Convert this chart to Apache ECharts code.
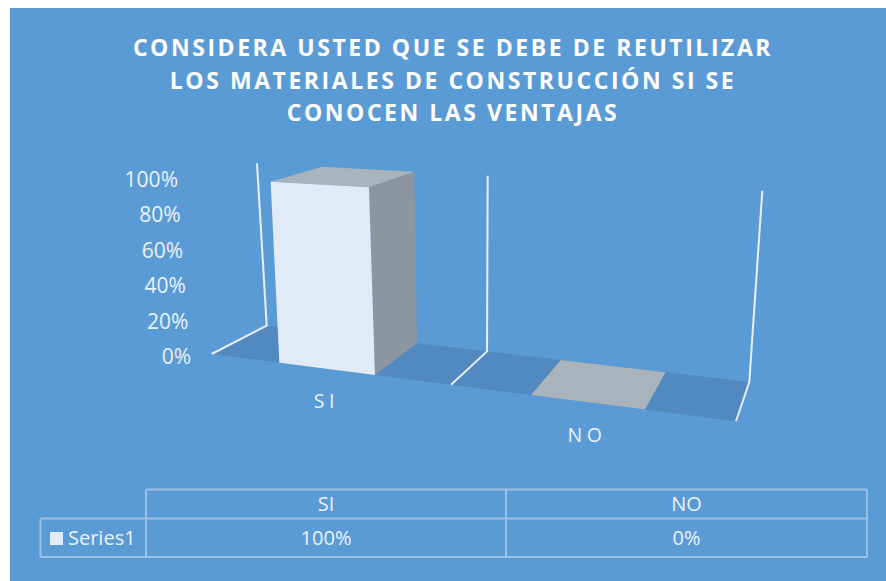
<!DOCTYPE html>
<html>
<head>
<meta charset="utf-8">
<style>
html,body{margin:0;padding:0;background:#fff}
#chart{width:886px;height:581px}
/* the reference's title and category labels are letter-spaced */
#chart text[style*="bold"]{letter-spacing:2.55px}
#chart text[style*="19.5px"]{letter-spacing:4.6px}
</style>
<script src="https://cdn.jsdelivr.net/npm/echarts@6/dist/echarts.min.js"></script>
</head>
<body>
<div id="chart"></div>
<script>
const titleLines = ['CONSIDERA USTED QUE SE DEBE DE REUTILIZAR','LOS MATERIALES DE CONSTRUCCIÓN SI SE','CONOCEN LAS VENTAJAS'];
const categories = ['SI','NO'];
const seriesName = 'Series1';
const seriesValues = [1,0];

const bg='#5B9BD5', floorColor='#5289C0', wallColor='#E6EEF8', textColor='#EAF1F9';
const frontColor='#E0EBF7', sideColor='#8C96A0', topColor='#A9B3BC', tableLine='#9DC0E5';
const FONT='"Open Sans"';

/* oblique view: u across the categories, d front to back, v up the value axis */
const K=-0.16;
const corners={L:{f0:[211.7,354],f1:[201,177.7],b0:[266.7,325.7],b1:[257,163.3]},
               R:{f0:[736,421.3],f1:[740.3,208.5],b0:[749.3,382],b1:[762.3,190.7]}};
function mix(a,b,t){return [a[0]+(b[0]-a[0])*t,a[1]+(b[1]-a[1])*t];}
function edge(c,d,v){return mix(mix(c.f0,c.b0,d),mix(c.f1,c.b1,d),v);}
function view(u,d,v){const t=u*(1+K)/(1+K*u);return mix(edge(corners.L,d,v),edge(corners.R,d,v),t);}

function poly(points,fill,z){return {type:'polygon',z2:z,shape:{points},style:{fill}};}
function wall(u){return {type:'polyline',z2:1,shape:{points:[view(u,0,0),view(u,1,0),view(u,1,1)]},
  style:{fill:'none',stroke:wallColor,lineWidth:2}};}

function renderFrame(){
  return {type:'group',children:[
    poly([view(0,0,0),view(0,1,0),view(1,1,0),view(1,0,0)],floorColor,0),
    wall(0),wall(0.5),wall(1)]};
}
function renderBar(params,api){
  const cs=params.coordSys, i=api.value(0);
  const c=api.coord([i,api.value(1)]);
  const u=(c[0]-cs.x)/cs.width, v=(cs.y+cs.height-c[1])/cs.height;
  const h=api.size([1,0])[0]*0.2/cs.width;
  const a=u-h,b=u+h;
  const p=view(u,0,0);
  return {type:'group',children:[
    poly([view(b,0,0),view(b,1,0),view(b,1,v),view(b,0,v)],sideColor,2),
    poly([view(a,0,v),view(a,1,v),view(b,1,v),view(b,0,v)],topColor,3),
    poly([view(a,0,0),view(b,0,0),view(b,0,v),view(a,0,v)],frontColor,4),
    {type:'text',z2:5,x:p[0],y:p[1]+32,style:{text:categories[i],fill:textColor,
      font:'19.5px '+FONT,align:'center',verticalAlign:'middle'}}
  ]};
}

/* data table under the chart */
const colX=[40.5,146,506,867], rowY=[489.5,518.5,557];
function line(x1,y1,x2,y2){return {type:'line',shape:{x1,y1,x2,y2},style:{stroke:tableLine,lineWidth:2},z:5};}
function cellText(text,x,y,align){return {type:'text',x,y,z:6,style:{text,fill:textColor,font:'20px '+FONT,align:align||'center',verticalAlign:'middle'}};}
const tableEls=[
  {type:'rect',z:-10,shape:{x:10,y:8,width:876,height:573},style:{fill:bg}},
  line(colX[1],rowY[0],colX[3],rowY[0]),line(colX[0],rowY[1],colX[3],rowY[1]),line(colX[0],rowY[2],colX[3],rowY[2]),
  line(colX[0],rowY[1],colX[0],rowY[2]),line(colX[1],rowY[0],colX[1],rowY[2]),line(colX[2],rowY[0],colX[2],rowY[2]),line(colX[3],rowY[0],colX[3],rowY[2]),
  {type:'rect',z:6,shape:{x:50,y:532,width:13,height:13},style:{fill:frontColor}},
  cellText(seriesName,68,537,'left')
];
categories.forEach((c,i)=>{
  const x=(colX[i+1]+colX[i+2])/2;
  tableEls.push(cellText(c,x,503),cellText(Math.round(seriesValues[i]*100)+'%',x,537));
});

/* tick labels lean with the wall, so each level has its own right padding */
const rich={};
[0,20,40,60,80,100].forEach(p=>{rich['p'+p]={color:textColor,fontFamily:FONT,fontSize:21,padding:[0,(p/100)*13,0,0]};});

const chart=echarts.init(document.getElementById('chart'),null,{renderer:'svg'});
chart.setOption({
  animation:false,
  backgroundColor:'transparent',
  title:{text:titleLines.join('\n'),left:448,textAlign:'center',top:26,
    textStyle:{color:'#fff',fontFamily:FONT,fontSize:23,fontWeight:'bold',lineHeight:32.5}},
  grid:{left:191,top:179,width:550,height:177},
  xAxis:{type:'category',data:categories,show:false},
  yAxis:{type:'value',min:0,max:1,interval:0.2,
    axisLine:{show:false},axisTick:{show:false},splitLine:{show:false},
    axisLabel:{margin:0,align:'right',verticalAlign:'middle',
      formatter:v=>{const p=Math.round(v*100);return '{p'+p+'|'+p+'%}';},rich}},
  series:[
    {type:'custom',name:'frame',data:[[0,0]],renderItem:renderFrame,z:1,silent:true,clip:false},
    {type:'custom',name:seriesName,data:seriesValues.map((v,i)=>[i,v]),encode:{x:0,y:1},renderItem:renderBar,z:2,clip:false}
  ],
  graphic:{elements:tableEls}
});
</script>
</body>
</html>
